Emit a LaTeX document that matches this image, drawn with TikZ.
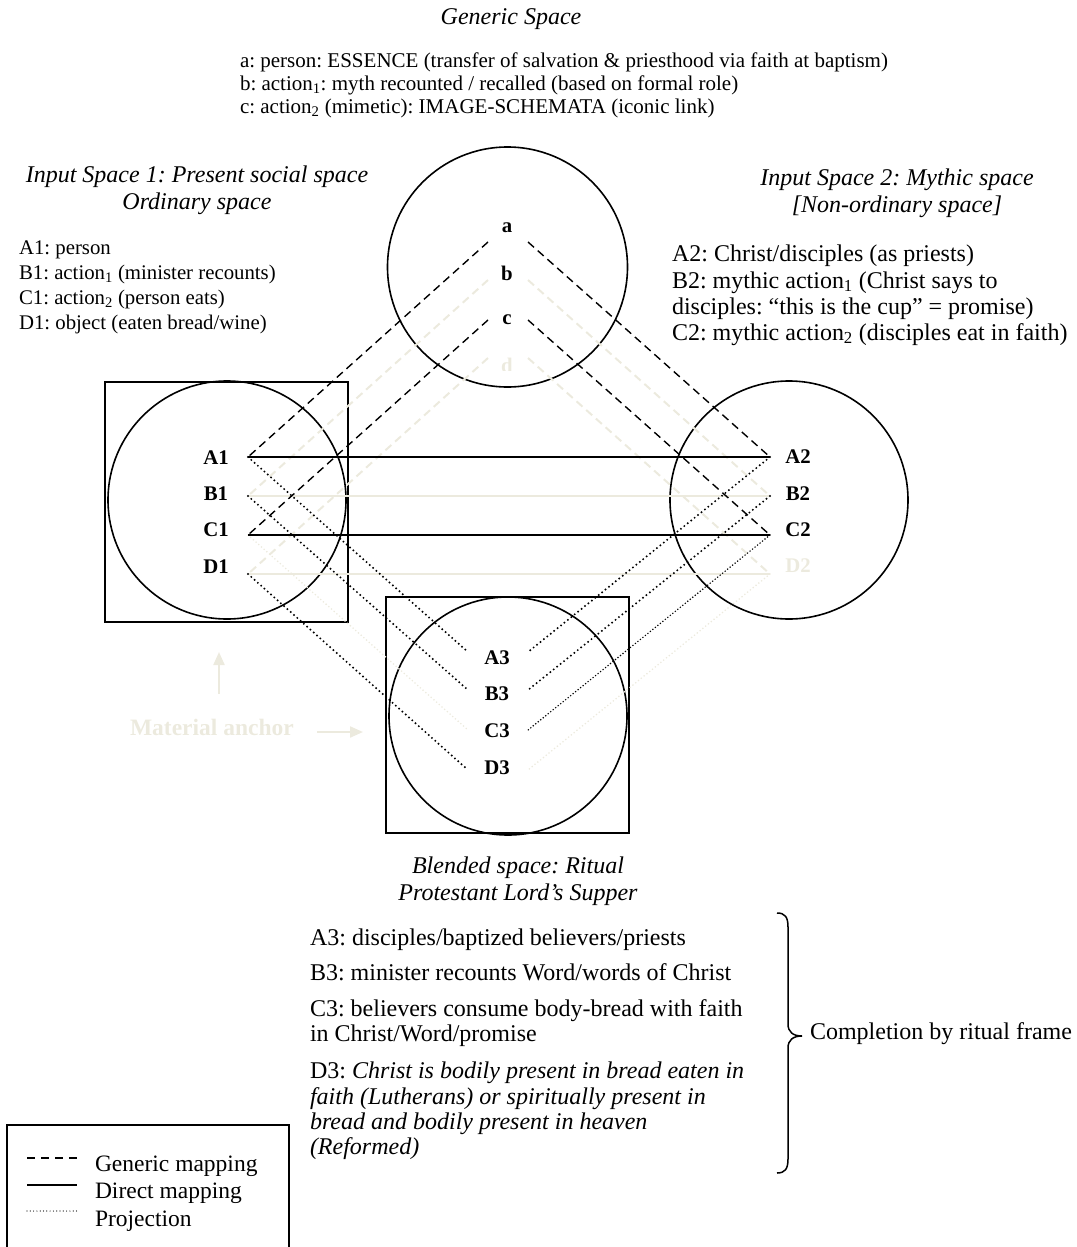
\documentclass[tikz,border=0pt]{standalone}
\usepackage{fontspec}
\setmainfont{Liberation Serif}
\usetikzlibrary{arrows.meta}
\definecolor{faint}{RGB}{236,234,222}
\newcommand{\fsS}{\fontsize{21}{23}\selectfont}
\newcommand{\fsL}{\fontsize{20.8}{23}\selectfont}
\newcommand{\fsM}{\fontsize{24}{27}\selectfont}
\newcommand{\fsG}{\fontsize{23.5}{27}\selectfont}
\frenchspacing
\begin{document}
\frenchspacing
\begin{tikzpicture}[x=1pt,y=-1pt,
  every node/.style={inner sep=0pt,outer sep=0pt},
  small/.style={font=\fsS,anchor=base west},
  left/.style={font=\fsL,anchor=base west},
  big/.style={font=\fsM,anchor=base west},
  ttl/.style={font=\fsM\itshape,anchor=base},
  lbl/.style={font=\fsL\bfseries},
  ring/.style={draw,circle,line width=1.6pt,minimum size=#1},
  frame/.style={draw,line width=2pt},
  gmap/.style={line width=1.4pt,dash pattern=on 8pt off 5pt},
  fgmap/.style={line width=2pt,dash pattern=on 8pt off 5pt,draw=faint},
  dmap/.style={line width=1.5pt},
  fdmap/.style={line width=2pt,draw=faint},
  proj/.style={line width=2.2pt,dash pattern=on 0pt off 4.4pt,line cap=round},
  tproj/.style={line width=1.6pt,dash pattern=on 0pt off 3.2pt,line cap=round},
  fproj/.style={line width=1.8pt,dash pattern=on 0pt off 3.6pt,line cap=round,draw=faint},
  farrow/.style={draw=faint,line width=2.2pt,-{Triangle[length=13pt,width=11pt]}}
]
\useasboundingbox (0,0) rectangle (1076,1247);

% ---------- texts: generic space ----------
\node[ttl] (gtitle) at (511,25) {Generic Space};
\node[small] (ta) at (240,67) {a: person: ESSENCE (transfer of salvation \& priesthood via faith at baptism)};
\node[small] (tb) at (240,90) {b: action\textsubscript{1}: myth recounted / recalled (based on formal role)};
\node[small] (tc) at (240,113) {c: action\textsubscript{2} (mimetic): IMAGE-SCHEMATA (iconic link)};

% ---------- input space 1 ----------
\node[ttl] (t1a) at (197,182) {Input Space 1: Present social space};
\node[ttl] (t1b) at (197,209) {Ordinary space};
\node[left] (s1a) at (19,254) {A1: person};
\node[left] (s1b) at (19,279) {B1: action\textsubscript{1} (minister recounts)};
\node[left] (s1c) at (19,304) {C1: action\textsubscript{2} (person eats)};
\node[left] (s1d) at (19,329) {D1: object (eaten bread/wine)};

% ---------- input space 2 ----------
\node[ttl] (t2a) at (897,185) {Input Space 2: Mythic space};
\node[ttl] (t2b) at (897,212) {[Non-ordinary space]};
\node[big] (s2a) at (672,261) {A2: Christ/disciples (as priests)};
\node[big] (s2b) at (672,288) {B2: mythic action\textsubscript{1} (Christ says to};
\node[big] (s2c) at (672,314) {disciples: “this is the cup” = promise)};
\node[big] (s2d) at (672,340) {C2: mythic action\textsubscript{2} (disciples eat in faith)};

% ---------- shapes ----------
\node[ring=240pt] (gcirc) at (507.5,267) {};
\node[frame,minimum width=243pt,minimum height=240pt] (sq1) at (226.5,502) {};
\node[ring=238pt] (c1) at (227,500) {};
\node[ring=238pt] (c2) at (789,500) {};
\node[frame,minimum width=243pt,minimum height=236pt] (sq3) at (507.5,715) {};
\node[ring=238pt] (c3) at (508,716) {};

% ---------- connector end points ----------
\coordinate (ga1) at (488,242); \coordinate (ga2) at (528,242);
\coordinate (gb1) at (488,280); \coordinate (gb2) at (528,280);
\coordinate (gc1) at (488,320); \coordinate (gc2) at (528,320);
\coordinate (gd1) at (488,358); \coordinate (gd2) at (528,358);
\coordinate (la) at (248,457); \coordinate (lb) at (248,496);
\coordinate (lc) at (248,535); \coordinate (ld) at (248,574);
\coordinate (ra) at (770,457); \coordinate (rb) at (770,496);
\coordinate (rc) at (770,535); \coordinate (rd) at (770,574);
\coordinate (bla) at (468,652); \coordinate (blb) at (468,690);
\coordinate (blc) at (468,730); \coordinate (bld) at (468,770);
\coordinate (bra) at (528,652); \coordinate (brb) at (528,690);
\coordinate (brc) at (528,730); \coordinate (brd) at (528,770);

% faint connectors
\draw[fgmap] (gb1) -- (lb);
\draw[fgmap] (gb2) -- (rb);
\draw[fgmap] (gd1) -- (ld);
\draw[fgmap] (gd2) -- (rd);
\draw[fdmap] (lb) -- (rb);
\draw[fdmap] (ld) -- (rd);
\draw[fproj] (lc) -- (blc);
\draw[fproj] (rd) -- (brd);
% black connectors
\draw[gmap] (ga1) -- (la);
\draw[gmap] (ga2) -- (ra);
\draw[gmap] (gc1) -- (lc);
\draw[gmap] (gc2) -- (rc);
\draw[dmap] (la) -- (ra);
\draw[dmap] (lc) -- (rc);
\draw[proj] (la) -- (bla);
\draw[proj] (lb) -- (blb);
\draw[proj] (ld) -- (bld);
\draw[proj] (ra) -- (bra);
\draw[proj] (rb) -- (brb);
\draw[tproj] (rc) -- (brc);

% ---------- labels ----------
\node[lbl] (la-l) at (507,228) {a};
\node[lbl] (lb-l) at (507,273) {b};
\node[lbl] (lc-l) at (507,320) {c};
\begin{scope}
  \clip (490,350) rectangle (525,370);
  \node[lbl,text=faint] (ld-l) at (507,365) {d};
\end{scope}
\node[lbl] (A1) at (216,458) {A1};
\node[lbl] (B1) at (216,494) {B1};
\node[lbl] (C1) at (216,530) {C1};
\node[lbl] (D1) at (216,567) {D1};
\node[lbl] (A2) at (798,457) {A2};
\node[lbl] (B2) at (798,494) {B2};
\node[lbl] (C2) at (798,530) {C2};
\node[lbl,text=faint] (D2) at (798,566) {D2};
\node[lbl] (A3) at (497,658) {A3};
\node[lbl] (B3) at (497,694) {B3};
\node[lbl] (C3) at (497,731) {C3};
\node[lbl] (D3) at (497,768) {D3};

% ---------- material anchor ----------
\node[font=\fsG\bfseries,text=faint,anchor=base west] (manchor) at (130,735) {Material anchor};
\coordinate (up1) at (219,694); \coordinate (up2) at (219,652);
\draw[farrow] (up1) -- (up2);
\coordinate (rt1) at (317,732); \coordinate (rt2) at (363,732);
\draw[farrow] (rt1) -- (rt2);

% ---------- blended space texts ----------
\node[ttl] (t3a) at (518,873) {Blended space: Ritual};
\node[ttl] (t3b) at (518,900) {Protestant Lord’s Supper};
\node[big] (b1) at (310,945) {A3: disciples/baptized believers/priests};
\node[big] (b2) at (310,980) {B3: minister recounts Word/words of Christ};
\node[big] (b3) at (310,1016) {C3: believers consume body-bread with faith};
\node[big] (b4) at (310,1041) {in Christ/Word/promise};
\node[big] (b5) at (310,1078) {D3: \textit{Christ is bodily present in bread eaten in}};
\node[big] (b6) at (310,1104) {\textit{faith (Lutherans) or spiritually present in}};
\node[big] (b7) at (310,1129) {\textit{bread and bodily present in heaven}};
\node[big] (b8) at (310,1154) {\textit{(Reformed)}};

% ---------- brace ----------
\coordinate (brtop) at (777,913); \coordinate (brtip) at (802,1036); \coordinate (brbot) at (777,1173);
\draw[line width=1.5pt] (brtop) .. controls (785,913) and (788,917) .. (788,927) -- (788,1024)
  .. controls (788,1032) and (793,1036) .. (brtip)
  .. controls (793,1036) and (788,1040) .. (788,1048) -- (788,1159)
  .. controls (788,1169) and (785,1173) .. (brbot);
\node[big] (compl) at (810,1039) {Completion by ritual frame};

% ---------- legend ----------
\draw[line width=2pt] (7,1252) |- (289,1125) -- (289,1252);
\coordinate (lg1a) at (27,1158); \coordinate (lg1b) at (77,1158);
\coordinate (lg2a) at (27,1185); \coordinate (lg2b) at (77,1185);
\coordinate (lg3a) at (27,1211); \coordinate (lg3b) at (77,1211);
\draw[line width=1.3pt,dash pattern=on 8pt off 6pt] (lg1a) -- (lg1b);
\draw[line width=2pt] (lg2a) -- (lg2b);
\draw[line width=1.2pt,dash pattern=on 0pt off 3.3pt,line cap=round] (lg3a) -- (lg3b);
\node[font=\fsG,anchor=base west] (lgt1) at (95,1171) {Generic mapping};
\node[font=\fsG,anchor=base west] (lgt2) at (95,1198) {Direct mapping};
\node[font=\fsG,anchor=base west] (lgt3) at (95,1226) {Projection};
\end{tikzpicture}
\end{document}
